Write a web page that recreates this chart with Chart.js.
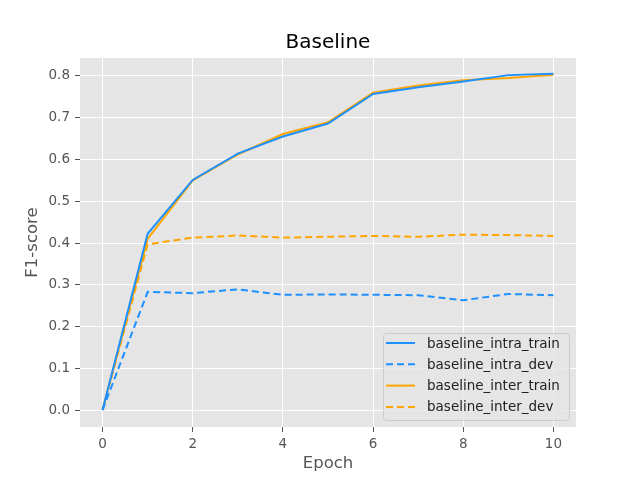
<!DOCTYPE html>
<html>
<head>
<meta charset="utf-8">
<script src="https://cdn.jsdelivr.net/npm/chart.js"></script>
<style>
  html, body { margin: 0; padding: 0; background: #fff; }
  #wrap { width: 640px; height: 480px; }
</style>
</head>
<body>
<div id="wrap"><canvas id="myChart" width="640" height="480"></canvas></div>
<script>
  // data
  const epochs = [0, 1, 2, 3, 4, 5, 6, 7, 8, 9, 10];
  const intraTrain = [0.0, 0.422, 0.551, 0.614, 0.655, 0.686, 0.757, 0.773, 0.787, 0.802, 0.805];
  const intraDev   = [0.0, 0.283, 0.280, 0.289, 0.276, 0.277, 0.276, 0.275, 0.263, 0.278, 0.275];
  const interTrain = [0.0, 0.410, 0.550, 0.612, 0.661, 0.689, 0.760, 0.777, 0.790, 0.795, 0.803];
  const interDev   = [0.0, 0.397, 0.413, 0.418, 0.413, 0.415, 0.417, 0.415, 0.420, 0.419, 0.417];
  const xTicks = [0, 2, 4, 6, 8, 10];
  const yTicks = [0.0, 0.1, 0.2, 0.3, 0.4, 0.5, 0.6, 0.7, 0.8];

  const BLUE = '#1E90FF';
  const ORANGE = '#FFA500';
  const FONT = "'DejaVu Sans', sans-serif";

  function toPoints(values) {
    return epochs.map((e, i) => ({ x: e, y: values[i] }));
  }

  // grey panel behind the plot, like matplotlib's ggplot style
  const panelBackground = {
    id: 'panelBackground',
    beforeDraw(chart) {
      const { ctx, chartArea: a } = chart;
      ctx.save();
      ctx.fillStyle = '#E5E5E5';
      ctx.fillRect(a.left, a.top, a.right - a.left, a.bottom - a.top);
      ctx.restore();
    }
  };

  // legend box inside the lower right corner of the plot
  const innerLegend = {
    id: 'innerLegend',
    afterDraw(chart) {
      const ctx = chart.ctx;
      const x = 383, y = 333, w = 186, h = 87;
      ctx.save();
      ctx.beginPath();
      ctx.roundRect(x + 0.5, y + 0.5, w, h, 3);
      ctx.fillStyle = 'rgba(229,229,229,0.8)';
      ctx.fill();
      ctx.strokeStyle = '#CCCCCC';
      ctx.lineWidth = 1;
      ctx.stroke();
      ctx.font = '13.5px ' + FONT;
      ctx.textBaseline = 'middle';
      chart.data.datasets.forEach((ds, i) => {
        const ry = 343 + i * 21.3;
        ctx.beginPath();
        ctx.setLineDash(ds.borderDash || []);
        ctx.strokeStyle = ds.borderColor;
        ctx.lineWidth = 2;
        ctx.moveTo(386, ry);
        ctx.lineTo(415, ry);
        ctx.stroke();
        ctx.setLineDash([]);
        ctx.fillStyle = '#222';
        ctx.fillText(ds.label, 427, ry + 1);
      });
      ctx.restore();
    }
  };

  const ctxMain = document.getElementById('myChart');

  new Chart(ctxMain, {
    type: 'line',
    data: {
      datasets: [{
        label: 'baseline_intra_train',
        data: toPoints(intraTrain),
        borderColor: BLUE,
        borderWidth: 2
      }, {
        label: 'baseline_intra_dev',
        data: toPoints(intraDev),
        borderColor: BLUE,
        borderDash: [7, 4],
        borderWidth: 2
      }, {
        label: 'baseline_inter_train',
        data: toPoints(interTrain),
        borderColor: ORANGE,
        borderWidth: 2
      }, {
        label: 'baseline_inter_dev',
        data: toPoints(interDev),
        borderColor: ORANGE,
        borderDash: [7, 4],
        borderWidth: 2
      }]
    },
    options: {
      responsive: false,
      animation: false,
      layout: { padding: { left: 0, right: 64, top: 0, bottom: 0 } },
      elements: {
        point: { radius: 0 },
        line: { tension: 0 }
      },
      plugins: {
        legend: { display: false },
        tooltip: { enabled: false },
        title: {
          display: true,
          fullSize: false,
          text: 'Baseline',
          color: '#000',
          font: { family: FONT, size: 20, weight: 'normal' },
          padding: { top: 31, bottom: 3 }
        }
      },
      scales: {
        x: {
          type: 'linear',
          min: -0.5,
          max: 10.5,
          afterBuildTicks: (s) => { s.ticks = xTicks.map(v => ({ value: v })); },
          afterFit: (s) => { s.height = 53; },
          border: { display: false },
          grid: { color: '#FFFFFF', lineWidth: 1, tickColor: '#555555', tickLength: 5 },
          ticks: { color: '#555555', font: { family: FONT, size: 13.5 }, padding: 4, maxRotation: 0 },
          title: {
            display: true,
            text: 'Epoch',
            color: '#555555',
            font: { family: FONT, size: 16.5 },
            padding: { top: 0, bottom: 6 }
          }
        },
        y: {
          type: 'linear',
          min: -0.0405,
          max: 0.843,
          afterBuildTicks: (s) => { s.ticks = yTicks.map(v => ({ value: v })); },
          afterFit: (s) => { s.width = 80; },
          border: { display: false },
          grid: { color: '#FFFFFF', lineWidth: 1, tickColor: '#555555', tickLength: 5 },
          ticks: {
            color: '#555555',
            font: { family: FONT, size: 13.5 },
            padding: 5,
            callback: (v) => v.toFixed(1)
          },
          title: {
            display: true,
            text: 'F1-score',
            color: '#555555',
            font: { family: FONT, size: 16.5 },
            padding: { top: 23, bottom: 0 }
          }
        }
      }
    },
    plugins: [panelBackground, innerLegend]
  });
</script>
</body>
</html>
